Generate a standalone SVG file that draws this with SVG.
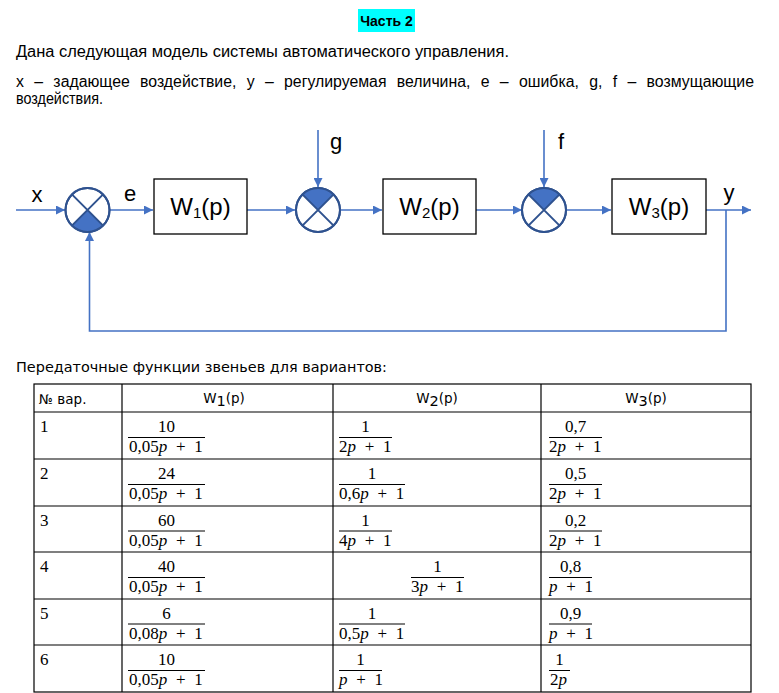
<svg xmlns="http://www.w3.org/2000/svg" width="779" height="693" viewBox="0 0 779 693">
<style>
.txt{font-family:"Liberation Sans",Arial,sans-serif;font-size:16px;fill:#000}
.lbl{font-family:"Liberation Sans",Arial,sans-serif;font-size:22px;fill:#000}
.blk{font-family:"Liberation Sans",Arial,sans-serif;font-size:24px;fill:#000}
.box{fill:#fff;stroke:#000;stroke-width:1.3}
.ring{fill:#fff;stroke:#2F528F;stroke-width:2}
.cross{stroke:#2F528F;stroke-width:2;fill:none}
.sect{fill:#4472C4;stroke:#2F528F;stroke-width:1}
.conn{stroke:#4472C4;stroke-width:1.6;fill:none}
.tb{stroke:#000;stroke-width:1.2;fill:none}
.hd{font-family:"DejaVu Sans",Verdana,sans-serif;font-size:13.5px;fill:#000}
.fr{font-family:"Liberation Serif","Times New Roman",serif;font-size:17px;fill:#000;word-spacing:4.5px}
.it{font-style:italic}
.fl{stroke:#000;stroke-width:1}
</style>
<defs>
<marker id="ah" viewBox="0 0 10 10" refX="10" refY="5" markerWidth="10" markerHeight="9" markerUnits="userSpaceOnUse" orient="auto">
<path d="M0,0 L10,5 L0,10 Z" fill="#4472C4"/>
</marker>
</defs>

<g id="title">
<rect x="358" y="9" width="57" height="23" fill="#00FFFF"/>
<text x="386.5" y="26" text-anchor="middle" font-family="Liberation Sans,Arial,sans-serif" font-size="14" font-weight="bold">Часть 2</text>
</g>

<g id="intro">
<text class="txt" x="16" y="57" textLength="493" lengthAdjust="spacingAndGlyphs">Дана следующая модель системы автоматического управления.</text>
<text class="txt" x="16" y="87" word-spacing="6" textLength="738" lengthAdjust="spacingAndGlyphs">x – задающее воздействие, y – регулируемая величина, e – ошибка, g, f – возмущающие</text>
<text class="txt" x="16" y="104" textLength="87" lengthAdjust="spacingAndGlyphs">воздействия.</text>
</g>

<g id="connectors">
<line class="conn" x1="16" y1="210" x2="65" y2="210" marker-end="url(#ah)"/>
<line class="conn" x1="109" y1="210" x2="153" y2="210" marker-end="url(#ah)"/>
<line class="conn" x1="247" y1="210" x2="295" y2="210" marker-end="url(#ah)"/>
<line class="conn" x1="318" y1="130" x2="318" y2="187" marker-end="url(#ah)"/>
<line class="conn" x1="340" y1="210" x2="382" y2="210" marker-end="url(#ah)"/>
<line class="conn" x1="476" y1="210" x2="522" y2="210" marker-end="url(#ah)"/>
<line class="conn" x1="544" y1="130" x2="544" y2="187" marker-end="url(#ah)"/>
<line class="conn" x1="566" y1="210" x2="611" y2="210" marker-end="url(#ah)"/>
<line class="conn" x1="706" y1="210" x2="751" y2="210" marker-end="url(#ah)"/>
<polyline class="conn" points="726,210 726,331 89.5,331 89.5,232" marker-end="url(#ah)"/>
</g>

<g id="labels">
<text class="lbl" x="37" y="202" text-anchor="middle">x</text>
<text class="lbl" x="130" y="201" text-anchor="middle">e</text>
<text class="lbl" x="336" y="149" text-anchor="middle">g</text>
<text class="lbl" x="561" y="149" text-anchor="middle">f</text>
<text class="lbl" x="729" y="200" text-anchor="middle">y</text>
</g>

<g id="sum1">
<circle class="ring" cx="87.5" cy="210" r="22"/>
<path class="sect" d="M87.5,210 L71.9,225.6 A22,22 0 0 0 103.1,225.6 Z"/>
<path class="cross" d="M71.9,194.4 L103.1,225.6 M103.1,194.4 L71.9,225.6"/>
<circle cx="87.5" cy="210" r="22" fill="none" stroke="#2F528F" stroke-width="2"/>
</g>

<g id="W1">
<rect class="box" x="154" y="179" width="93" height="55"/>
<text class="blk" x="200.5" y="215" text-anchor="middle">W<tspan font-size="15" dy="3">1</tspan><tspan dy="-3">(p)</tspan></text>
</g>

<g id="sum2">
<circle class="ring" cx="318" cy="210" r="22"/>
<path class="sect" d="M318,210 L302.4,194.4 A22,22 0 0 1 333.6,194.4 Z"/>
<path class="cross" d="M302.4,194.4 L333.6,225.6 M333.6,194.4 L302.4,225.6"/>
<circle cx="318" cy="210" r="22" fill="none" stroke="#2F528F" stroke-width="2"/>
</g>

<g id="W2">
<rect class="box" x="383" y="179" width="93" height="55"/>
<text class="blk" x="429.5" y="215" text-anchor="middle">W<tspan font-size="15" dy="3">2</tspan><tspan dy="-3">(p)</tspan></text>
</g>

<g id="sum3">
<circle class="ring" cx="544" cy="210" r="22"/>
<path class="sect" d="M544,210 L528.4,194.4 A22,22 0 0 1 559.6,194.4 Z"/>
<path class="cross" d="M528.4,194.4 L559.6,225.6 M559.6,194.4 L528.4,225.6"/>
<circle cx="544" cy="210" r="22" fill="none" stroke="#2F528F" stroke-width="2"/>
</g>

<g id="W3">
<rect class="box" x="612" y="179" width="94" height="55"/>
<text class="blk" x="659" y="215" text-anchor="middle">W<tspan font-size="15" dy="3">3</tspan><tspan dy="-3">(p)</tspan></text>
</g>

<g id="table-caption">
<text class="hd" x="16" y="372" font-size="14.5" textLength="371" lengthAdjust="spacingAndGlyphs">Передаточные функции звеньев для вариантов:</text>
</g>

<g id="table">
<rect class="tb" x="34" y="384" width="717" height="308"/>
<line class="tb" x1="122" y1="384" x2="122" y2="692"/>
<line class="tb" x1="333" y1="384" x2="333" y2="692"/>
<line class="tb" x1="541" y1="384" x2="541" y2="692"/>
<line class="tb" x1="34" y1="412" x2="751" y2="412"/>
<line class="tb" x1="34" y1="459" x2="751" y2="459"/>
<line class="tb" x1="34" y1="506" x2="751" y2="506"/>
<line class="tb" x1="34" y1="552" x2="751" y2="552"/>
<line class="tb" x1="34" y1="599" x2="751" y2="599"/>
<line class="tb" x1="34" y1="645" x2="751" y2="645"/>

<text class="hd" x="39" y="404">№ вар.</text>
<text class="hd" x="224" y="403" text-anchor="middle">W<tspan dy="3" font-size="14.5">1</tspan><tspan dy="-3">(p)</tspan></text>
<text class="hd" x="437" y="403" text-anchor="middle">W<tspan dy="3" font-size="14.5">2</tspan><tspan dy="-3">(p)</tspan></text>
<text class="hd" x="646" y="403" text-anchor="middle">W<tspan dy="3" font-size="14.5">3</tspan><tspan dy="-3">(p)</tspan></text>

<!-- row 1 -->
<text class="fr" x="40" y="432">1</text>
<text class="fr" x="166.5" y="432" text-anchor="middle">10</text>
<line class="fl" x1="128" y1="437.5" x2="205" y2="437.5"/>
<text class="fr" x="129" y="452">0,05<tspan class="it">p</tspan> + 1</text>
<text class="fr" x="365.5" y="432" text-anchor="middle">1</text>
<line class="fl" x1="339" y1="437.5" x2="392" y2="437.5"/>
<text class="fr" x="339" y="452">2<tspan class="it">p</tspan> + 1</text>
<text class="fr" x="575.5" y="432" text-anchor="middle">0,7</text>
<line class="fl" x1="549" y1="437.5" x2="602" y2="437.5"/>
<text class="fr" x="549" y="452">2<tspan class="it">p</tspan> + 1</text>

<!-- row 2 -->
<text class="fr" x="40" y="479">2</text>
<text class="fr" x="166.5" y="479" text-anchor="middle">24</text>
<line class="fl" x1="128" y1="484.5" x2="205" y2="484.5"/>
<text class="fr" x="129" y="499">0,05<tspan class="it">p</tspan> + 1</text>
<text class="fr" x="372" y="479" text-anchor="middle">1</text>
<line class="fl" x1="339" y1="484.5" x2="405" y2="484.5"/>
<text class="fr" x="339" y="499">0,6<tspan class="it">p</tspan> + 1</text>
<text class="fr" x="575.5" y="479" text-anchor="middle">0,5</text>
<line class="fl" x1="549" y1="484.5" x2="602" y2="484.5"/>
<text class="fr" x="549" y="499">2<tspan class="it">p</tspan> + 1</text>

<!-- row 3 -->
<text class="fr" x="40" y="526">3</text>
<text class="fr" x="166.5" y="526" text-anchor="middle">60</text>
<line class="fl" x1="128" y1="531" x2="205" y2="531"/>
<text class="fr" x="129" y="546">0,05<tspan class="it">p</tspan> + 1</text>
<text class="fr" x="365.5" y="526" text-anchor="middle">1</text>
<line class="fl" x1="339" y1="531" x2="392" y2="531"/>
<text class="fr" x="339" y="546">4<tspan class="it">p</tspan> + 1</text>
<text class="fr" x="575.5" y="526" text-anchor="middle">0,2</text>
<line class="fl" x1="549" y1="531" x2="602" y2="531"/>
<text class="fr" x="549" y="546">2<tspan class="it">p</tspan> + 1</text>

<!-- row 4 -->
<text class="fr" x="40" y="572">4</text>
<text class="fr" x="166.5" y="572" text-anchor="middle">40</text>
<line class="fl" x1="128" y1="577.5" x2="205" y2="577.5"/>
<text class="fr" x="129" y="592">0,05<tspan class="it">p</tspan> + 1</text>
<text class="fr" x="437.5" y="572" text-anchor="middle">1</text>
<line class="fl" x1="411" y1="577.5" x2="464" y2="577.5"/>
<text class="fr" x="411" y="592">3<tspan class="it">p</tspan> + 1</text>
<text class="fr" x="570.5" y="572" text-anchor="middle">0,8</text>
<line class="fl" x1="549" y1="577.5" x2="592" y2="577.5"/>
<text class="fr" x="549" y="592"><tspan class="it">p</tspan> + 1</text>

<!-- row 5 -->
<text class="fr" x="40" y="619">5</text>
<text class="fr" x="166.5" y="619" text-anchor="middle">6</text>
<line class="fl" x1="128" y1="624" x2="205" y2="624"/>
<text class="fr" x="129" y="639">0,08<tspan class="it">p</tspan> + 1</text>
<text class="fr" x="372" y="619" text-anchor="middle">1</text>
<line class="fl" x1="339" y1="624" x2="405" y2="624"/>
<text class="fr" x="339" y="639">0,5<tspan class="it">p</tspan> + 1</text>
<text class="fr" x="570.5" y="619" text-anchor="middle">0,9</text>
<line class="fl" x1="549" y1="624" x2="592" y2="624"/>
<text class="fr" x="549" y="639"><tspan class="it">p</tspan> + 1</text>

<!-- row 6 -->
<text class="fr" x="40" y="665">6</text>
<text class="fr" x="166.5" y="665" text-anchor="middle">10</text>
<line class="fl" x1="128" y1="670.5" x2="205" y2="670.5"/>
<text class="fr" x="129" y="685">0,05<tspan class="it">p</tspan> + 1</text>
<text class="fr" x="360.5" y="665" text-anchor="middle">1</text>
<line class="fl" x1="339" y1="670.5" x2="382" y2="670.5"/>
<text class="fr" x="339" y="685"><tspan class="it">p</tspan> + 1</text>
<text class="fr" x="559.5" y="665" text-anchor="middle">1</text>
<line class="fl" x1="549" y1="670.5" x2="570" y2="670.5"/>
<text class="fr" x="550" y="685">2<tspan class="it">p</tspan></text>
</g>
</svg>
